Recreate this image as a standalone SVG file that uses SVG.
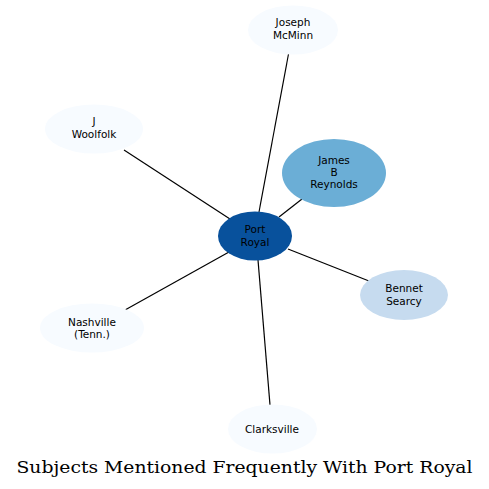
<svg xmlns="http://www.w3.org/2000/svg" width="489" height="489" viewBox="0 0 489 489">
<style>
.n text{font-family:"DejaVu Sans",sans-serif;font-size:10.5px;fill:#000;text-anchor:middle}
.e line{stroke:#000;stroke-width:1.2}
.light{fill:#f7fbff}
.title{font-family:"DejaVu Serif",serif;font-size:17px;fill:#000;text-anchor:middle}
</style>
<rect width="489" height="489" fill="#fff"/>
<g id="edges" class="e">
<line x1="259" y1="212" x2="288.5" y2="54"/>
<line x1="230" y1="219" x2="124" y2="150"/>
<line x1="279" y1="217" x2="302" y2="199"/>
<line x1="288" y1="249" x2="369" y2="281"/>
<line x1="229" y1="252" x2="125" y2="310"/>
<line x1="258" y1="260" x2="270" y2="405"/>
</g>
<g id="n_mcminn" class="n"><ellipse class="light" cx="293" cy="30" rx="45" ry="24.5"/><text x="293" y="26">Joseph</text><text x="293" y="38.5">McMinn</text></g>
<g id="n_woolfolk" class="n"><ellipse class="light" cx="94" cy="129" rx="49" ry="24.5"/><text x="94" y="125">J</text><text x="94" y="137.5">Woolfolk</text></g>
<g id="n_reynolds" class="n"><ellipse fill="#6baed6" cx="334" cy="173" rx="52" ry="34"/><text x="334" y="164">James</text><text x="334" y="176">B</text><text x="334" y="188">Reynolds</text></g>
<g id="n_portroyal" class="n"><ellipse fill="#08519c" cx="255" cy="236" rx="37" ry="24.5"/><text x="255" y="233">Port</text><text x="255" y="245.5">Royal</text></g>
<g id="n_searcy" class="n"><ellipse fill="#c6dbef" cx="404" cy="295" rx="44" ry="25"/><text x="404" y="292">Bennet</text><text x="404" y="304.5">Searcy</text></g>
<g id="n_nashville" class="n"><ellipse class="light" cx="92" cy="328" rx="52" ry="24.5"/><text x="92" y="325.5">Nashville</text><text x="92" y="338">(Tenn.)</text></g>
<g id="n_clarksville" class="n"><ellipse class="light" cx="272.5" cy="429" rx="44.5" ry="24.5"/><text x="272" y="432.5">Clarksville</text></g>
<text class="title" x="244.5" y="473" textLength="456" lengthAdjust="spacingAndGlyphs">Subjects Mentioned Frequently With Port Royal</text>
</svg>
